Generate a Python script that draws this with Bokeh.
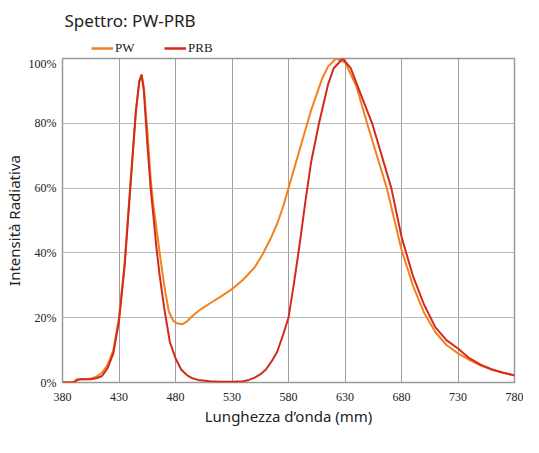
from bokeh.plotting import figure
from bokeh.models import Legend, LegendItem, FixedTicker, Label
from bokeh.layouts import column
from bokeh.embed import file_html
from bokeh.resources import INLINE

# Data (wavelength nm, relative intensity %)
wl_pw = [380,385,390,393,396,400,405,410,415,420,425,430,435,440,445,448,450,452,455,458,
         460,463,466,470,474,478,482,486,490,495,500,505,510,520,530,540,550,557,565,570,
         575,580,590,600,610,615,622,630,640,650,660,667,680,690,700,710,720,730,740,750,
         760,770,780]
pw = [0,0,0.2,1,1,1,1.2,1.8,3,5.5,10,20,37,61,84,93,95,91,78,63,
      56,48,40,30,22,19,18.2,18,18.8,20.5,22,23.2,24.3,26.5,28.8,31.8,35.5,39.5,45,49,
      54,60,72,84,94,97.5,100,98.8,91.5,79.5,68,60,41,30,21.5,15.5,11.5,9,7,5.2,
      4,3,2.2]

wl_prb = [380,385,390,393,396,400,405,410,415,420,425,430,435,440,445,448,450,452,455,458,
          460,463,466,470,475,480,485,490,495,500,510,520,530,540,545,550,555,560,565,570,
          575,580,585,590,595,600,607,615,620,628,635,645,654,660,671,680,690,700,710,720,
          730,740,750,760,770,780]
prb = [0,0,0,0.8,1,1,1,1.3,2,4.5,9,19,36,60,84,93,95,90,74,60,
       53,42,33,23,12.5,7.5,4,2.3,1.3,0.8,0.4,0.2,0.2,0.4,0.8,1.5,2.5,4,6.5,9.5,
       14.5,20,31,43,56,68,80,92,97,100,97,88,80,73,60,45,33,24,17,13,
       10.5,7.5,5.5,4,3,2.2]

series_names = ["PW", "PRB"]
x_ticks = [380, 430, 480, 530, 580, 630, 680, 730, 780]
y_ticks = [0, 20, 40, 60, 80, 100]
y_tick_labels = ["0%", "20%", "40%", "60%", "80%", "100%"]
title_text = "Spettro: PW-PRB"

ORANGE = "#F2821C"
RED = "#D42A1E"
TXT = "#222222"

W = 523

# ---- header figure: title + legend ----
h = figure(width=W, height=56, x_range=(0, 1), y_range=(0, 1),
           output_backend="svg", toolbar_location=None,
           min_border_left=0, min_border_right=0, min_border_top=0, min_border_bottom=0,
           x_axis_location=None, y_axis_location=None)
h.grid.visible = False
h.outline_line_color = None
h.title.visible = False

h.add_layout(Label(x=2, y=25, x_units="screen", y_units="screen", text=title_text,
                   text_font="Noto Sans", text_font_size="17px", text_color=TXT))

d1 = h.line([-2, -1], [-2, -2], line_color=ORANGE, line_width=2.5)
d2 = h.line([-2, -1], [-2, -2], line_color=RED, line_width=2.5)
legend = Legend(items=[LegendItem(label=series_names[0], renderers=[d1]),
                       LegendItem(label=series_names[1], renderers=[d2])],
                orientation="horizontal", location=(29, 0),
                glyph_width=22, glyph_height=14, label_standoff=2, spacing=29,
                padding=0, margin=0, border_line_color=None, background_fill_alpha=0,
                label_text_font="Liberation Serif", label_text_font_size="13px",
                label_text_color=TXT)
h.add_layout(legend, "center")

# ---- main figure ----
p = figure(width=W, height=372, x_range=(380, 780), y_range=(0, 100),
           output_backend="svg", toolbar_location=None,
           min_border_left=56, min_border_right=9, min_border_top=2, min_border_bottom=46)
p.title.visible = False

p.line(wl_pw, pw, line_color=ORANGE, line_width=2)
p.line(wl_prb, prb, line_color=RED, line_width=2)

p.xaxis.ticker = FixedTicker(ticks=x_ticks)
p.yaxis.ticker = FixedTicker(ticks=y_ticks)
p.yaxis.major_label_overrides = {t: l for t, l in zip(y_ticks, y_tick_labels)}

for ax in (p.xaxis, p.yaxis):
    ax.axis_line_color = None
    ax.major_tick_line_color = None
    ax.minor_tick_line_color = None
    ax.major_tick_out = 0
    ax.major_tick_in = 0
    ax.minor_tick_out = 0
    ax.minor_tick_in = 0
    ax.major_label_text_font = "Liberation Serif"
    ax.major_label_text_font_size = "12px"
    ax.major_label_text_color = TXT
    ax.axis_label_text_font = "Noto Sans"
    ax.axis_label_text_font_style = "normal"
    ax.axis_label_text_color = TXT
    ax.axis_label_text_font_size = "15px"

p.xaxis.axis_label = "Lunghezza d’onda (mm)"
p.yaxis.axis_label = "Intensità Radiativa"
p.xaxis.major_label_standoff = 10
p.yaxis.major_label_standoff = 6
p.xaxis.axis_label_standoff = 2
p.yaxis.axis_label_standoff = 2

p.xgrid.grid_line_color = "#A0A0A0"
p.ygrid.grid_line_color = "#B8B8B8"

p.outline_line_color = "#999999"
p.outline_line_width = 1.5

layout = column(h, p, spacing=0)
open("out.html", "w").write(file_html(layout, INLINE))
